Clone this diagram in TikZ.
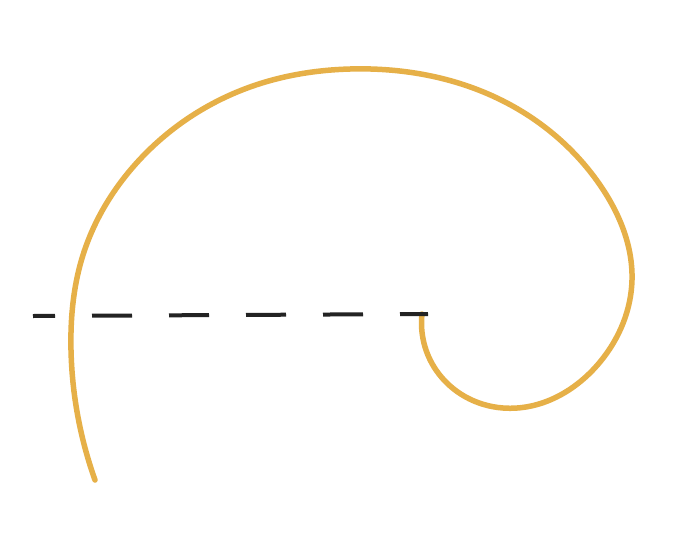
\documentclass[tikz,border=0pt]{standalone}
\usetikzlibrary{hobby}
\definecolor{spiral}{RGB}{230,176,72}
\definecolor{dashc}{RGB}{35,35,35}
\tikzset{
  spiralline/.style={draw=spiral,line width=5.5pt,line cap=round,line join=round},
  axisline/.style={draw=dashc,line width=4pt,dash pattern=on 40pt off 37pt,dash phase=12pt}
}
\begin{document}
\begin{tikzpicture}[x=1pt,y=-1pt]
\useasboundingbox[fill=white] (0,0) rectangle (697,560);
\coordinate (end) at (422,314);
\coordinate (dashend) at (428,314);
\coordinate (left) at (33,316);
\draw[spiralline,use Hobby shortcut] (95,480) .. (71,350) .. (83,255) .. (133,167)
 .. (250,87) .. (350,69) .. (507,103) .. (600,185) .. (632,280) .. (600,362)
 .. (503,408) .. (436,370) .. (end);
\draw[axisline] (dashend) -- (left);
\end{tikzpicture}
\end{document}
